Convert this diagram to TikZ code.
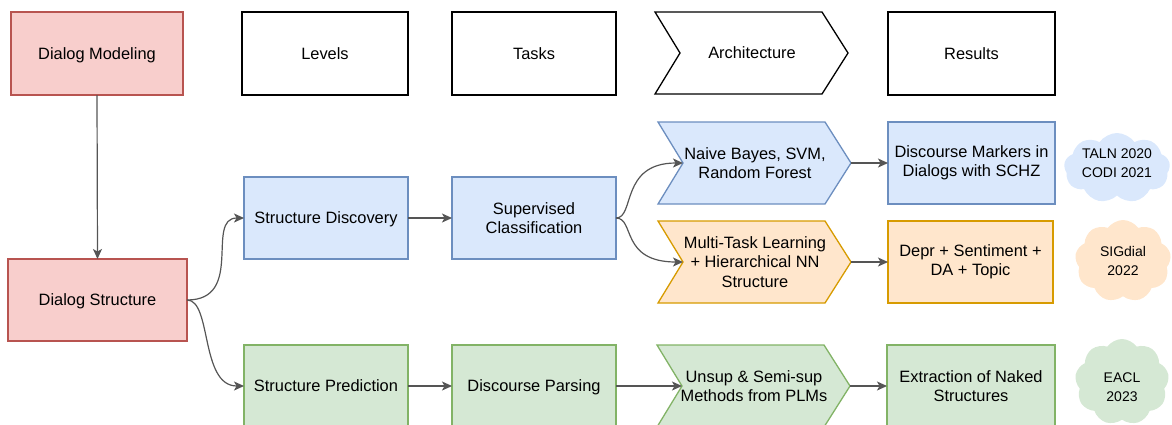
\documentclass[tikz,border=0pt]{standalone}
\usepackage{fontspec}
\setmainfont{Liberation Sans}
\usetikzlibrary{shapes.symbols,arrows.meta,calc}
\definecolor{redF}{HTML}{F8CECC}\definecolor{redD}{HTML}{B85450}
\definecolor{blueF}{HTML}{DAE8FC}\definecolor{blueD}{HTML}{6C8EBF}
\definecolor{orF}{HTML}{FFE6CC}\definecolor{orD}{HTML}{D79B00}
\definecolor{grF}{HTML}{D5E8D4}\definecolor{grD}{HTML}{82B366}
\definecolor{edgecol}{HTML}{555555}
\tikzset{
  bfont/.style={font=\fontsize{16.4}{19.5}\selectfont},
  box/.style={draw, line width=1.3pt, align=center, inner sep=0pt, outer sep=0pt, minimum height=82pt, bfont},
  one/.style={text height=11.7pt, text depth=0pt},
  chev/.style={draw, line width=1.3pt, line join=miter},
  txt/.style={align=center, inner sep=0pt, bfont},
  cred/.style={fill=redF, draw=redD},
  cblue/.style={fill=blueF, draw=blueD},
  cor/.style={fill=orF, draw=orD},
  cgr/.style={fill=grF, draw=grD},
  cwhite/.style={fill=white, draw=black},
  cloudbox/.style={cloud, cloud puffs=9, cloud puff arc=110, cloud ignores aspect, draw=none, inner sep=0pt},
  cloudtxt/.style={align=center, inner sep=0pt, font=\fontsize{14}{19.5}\selectfont},
  arr/.style={draw=edgecol, line width=1.2pt, -{Stealth[length=10pt,width=9pt,inset=2.5pt]}},
}
% name, x, y (top-left), colour style, text
\newcommand{\chevron}[5]{%
  \path[chev,#4] (#2,#3) -- ++(167,0) -- ++(26,41) -- ++(-26,41) -- ++(-167,0) -- ++(25,-41) -- cycle;
  \coordinate (#1-w) at (#2+25,#3+41);
  \coordinate (#1-e) at (#2+193,#3+41);
  \node[txt] (#1) at (#2+97,#3+41) {#5};
}
\begin{document}
\begin{tikzpicture}[x=1pt,y=-1pt]
\useasboundingbox (0,0) rectangle (1172,424);
\clip (0,0) rectangle (1172,424);

% top row
\node[box, one, cred, minimum width=172pt, minimum height=83pt] (dm) at (97,53.5) {Dialog Modeling};
\node[box, one, cwhite, minimum width=166pt, minimum height=83pt] (levels) at (325,53.5) {Levels};
\node[box, one, cwhite, minimum width=164pt, minimum height=83pt] (tasks) at (534,53.5) {Tasks};
\chevron{arch}{655}{12}{cwhite, one}{Architecture}
\node[box, one, cwhite, minimum width=167pt, minimum height=83pt] (results) at (971.5,53.5) {Results};

% level nodes
\node[box, one, cred, minimum width=179pt] (ds) at (97.5,300) {Dialog Structure};
\node[box, one, cblue, minimum width=164pt] (sd) at (326,218) {Structure Discovery};
\node[box, cblue, minimum width=164pt] (sc) at (534,218) {Supervised\\Classification};
\chevron{nb}{658}{122}{cblue}{Naive Bayes, SVM,\\Random Forest}
\node[box, cblue, minimum width=167pt] (dmk) at (971.5,163) {Discourse Markers in\\Dialogs with SCHZ};
\chevron{mt}{658}{221}{cor}{Multi-Task Learning\\+ Hierarchical NN\\Structure}
\node[box, cor, minimum width=165pt] (depr) at (970.5,262) {Depr + Sentiment +\\DA + Topic};

\node[box, one, cgr, minimum width=164pt] (sp) at (326,386) {Structure Prediction};
\node[box, one, cgr, minimum width=164pt] (dp) at (534,386) {Discourse Parsing};
\chevron{us}{657}{345}{cgr}{Unsup \& Semi-sup\\Methods from PLMs}
\node[box, cgr, minimum width=168pt] (ex) at (971,386) {Extraction of Naked\\Structures};

% clouds
\node[cloudbox, fill=blueF, minimum width=106pt, minimum height=70pt] (c1) at (1117,168) {};
\node[cloudtxt] (c1t) at (1117,163) {TALN 2020\\CODI 2021};
\node[cloudbox, fill=orF, minimum width=96pt, minimum height=82pt] (c2) at (1123,261) {};
\node[cloudtxt] (c2t) at (1123,261) {SIGdial\\2022};
\node[cloudbox, fill=grF, minimum width=94pt, minimum height=86pt] (c3) at (1122,382) {};
\node[cloudtxt] (c3t) at (1122,387) {EACL\\2023};

% connectors
\draw[arr] (dm.south) -- (ds.north);
\draw[arr] (ds.east) .. controls (245,300) and (205,218) .. (sd.west);
\draw[arr] (ds.east) .. controls (212,300) and (200,386) .. (sp.west);
\draw[arr] (sd.east) -- (sc.west);
\draw[arr] (sc.east) .. controls (635,218) and (620,163) .. (nb-w);
\draw[arr] (sc.east) .. controls (635,218) and (620,262) .. (mt-w);
\draw[arr] (nb-e) -- (dmk.west);
\draw[arr] (mt-e) -- (depr.west);
\draw[arr] (sp.east) -- (dp.west);
\draw[arr] (dp.east) -- (us-w);
\draw[arr] (us-e) -- (ex.west);
\end{tikzpicture}
\end{document}
